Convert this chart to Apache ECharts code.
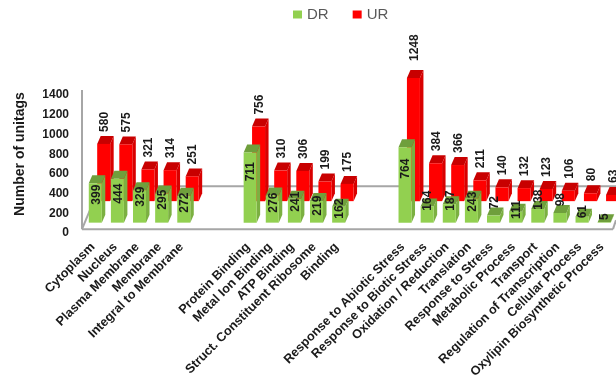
<!DOCTYPE html>
<html>
<head>
<meta charset="utf-8">
<script src="https://cdn.jsdelivr.net/npm/echarts@6/dist/echarts.min.js"></script>
<style>html,body{margin:0;padding:0;background:#fff}#c{width:616px;height:381px}</style>
</head>
<body>
<div id="c"></div>
<script>
// Unitag counts per GO term; empty slots separate the three term groups.
const categories = [
  'Cytoplasm', 'Nucleus', 'Plasma Membrane', 'Membrane', 'Integral to Membrane', '', '',
  'Protein Binding', 'Metal Ion Binding', 'ATP Binding', 'Struct. Constituent Ribosome', 'Binding', '', '',
  'Response to Abiotic Stress', 'Response to Biotic Stress', 'Oxidation / Reduction', 'Translation',
  'Response to Stress', 'Metabolic Process', 'Transport', 'Regulation of Transcription',
  'Cellular Process', 'Oxylipin Biosynthetic Process'
];
const drValues = [399, 444, 329, 295, 272, null, null, 711, 276, 241, 219, 162, null, null,
  764, 164, 187, 243, 72, 111, 138, 98, 61, 5];
const urValues = [580, 575, 321, 314, 251, null, null, 756, 310, 306, 199, 175, null, null,
  1248, 384, 366, 211, 140, 132, 123, 106, 80, 63];
const yTicks = { min: 0, max: 1400, interval: 200 };

// Height in pixels of each DR value label above the foot of its column.
const drLabelRise = [28, 29, 26, 23, 20, 0, 0, 51, 20, 21, 17, 14, 0, 0,
  54, 22, 22, 21, 20, 13, 23, 23, 11, 6];

const FAMILY = '"Liberation Sans", Arial, sans-serif';
const FONT = 'bold 12px ' + FAMILY;
const INK = '#1a1a1a';
const EDGE = '#a6a6a6';
const GREEN = { front: '#92d050', top: '#6f9f3c', side: '#7bb041' };
const RED = { front: '#ff0000', top: '#c80000', side: '#d90000' };

// Draws one pseudo-3D column: front, side and top faces, then its value label.
function column(params, api, o) {
  const i = api.value(0), v = api.value(1);
  const foot = api.coord([i, 0]);
  const head = api.coord([i, v]);
  const band = api.size([1, 0])[0];
  const w = 13, dx = 3.5, dy = 8;
  const cx = foot[0] + band * o.shift;
  const x0 = cx - w / 2, x1 = cx + w / 2;
  const yb = foot[1] - o.lift, yt = head[1] - o.lift;
  const faces = [
    { type: 'polygon', shape: { points: [[x1, yb], [x1 + dx, yb - dy], [x1 + dx, yt - dy], [x1, yt]] }, style: { fill: o.col.side } },
    { type: 'polygon', shape: { points: [[x0, yt], [x0 + dx, yt - dy], [x1 + dx, yt - dy], [x1, yt]] }, style: { fill: o.col.top } },
    { type: 'rect', shape: { x: x0, y: yt, width: w, height: yb - yt }, style: { fill: o.col.front } }
  ];
  faces.push({
    type: 'text', x: cx + 1, y: o.labelY(i, yb, yt - dy), rotation: Math.PI / 2, z2: 50,
    style: { text: String(v), font: FONT, fill: INK, align: o.align, verticalAlign: 'middle' }
  });
  return { type: 'group', children: faces };
}

const option = {
  animation: false,
  backgroundColor: '#fff',
  legend: {
    data: ['DR', 'UR'], left: 288, top: 2, icon: 'rect', itemWidth: 9, itemHeight: 8, itemGap: 24,
    textStyle: { fontSize: 15, color: '#595959', fontFamily: FAMILY }
  },
  grid: { left: 82, right: 3, top: 91, bottom: 151 },
  xAxis: {
    type: 'category', data: categories,
    axisTick: { show: false },
    axisLine: { show: false },
    axisLabel: { interval: 0, rotate: 45, margin: 16, color: INK, fontFamily: FAMILY, fontWeight: 'bold', fontSize: 12.7 }
  },
  yAxis: {
    type: 'value', min: yTicks.min, max: yTicks.max, interval: yTicks.interval,
    name: 'Number of unitags', nameLocation: 'middle', nameGap: 55,
    nameTextStyle: { fontFamily: FAMILY, fontWeight: 'bold', fontSize: 14, color: INK, padding: [0, 0, 0, 12] },
    splitLine: { show: false }, axisTick: { show: false },
    axisLine: { show: false },
    axisLabel: {
      margin: 13, color: INK, fontFamily: FAMILY, fontWeight: 'bold', fontSize: 12,
      verticalAlign: 'top', padding: [-2, 0, 0, 0], formatter: v => String(v)
    }
  },
  series: [
    {
      // Plot frame: left wall, front edge, back edge and the slanted floor sides.
      type: 'custom', name: 'floor', silent: true, z: 1, clip: false,
      encode: { x: 0, y: 1 },
      data: [[0, 0]],
      renderItem(params, api) {
        const foot = api.coord([0, 0]), band = api.size([1, 0])[0];
        const left = foot[0] - band / 2, right = api.coord([23, 0])[0] + band / 2;
        const y = foot[1], backY = y - 43, wallTop = api.coord([0, yTicks.max])[1] - 1;
        const line = { stroke: EDGE, lineWidth: 2, fill: 'none' };
        const seg = (x1, y1, x2, y2) => ({ type: 'line', shape: { x1, y1, x2, y2 }, style: line });
        return {
          type: 'group', children: [
            seg(left + 18, backY, 616, backY),
            seg(left, y, left + 18, backY),
            seg(left, wallTop, left, y),
            seg(left, y, right, y),
            seg(right, y, right + 3, y - 9)
          ]
        };
      }
    },
    {
      type: 'custom', name: 'UR', z: 2, clip: false,
      itemStyle: { color: RED.front },
      encode: { x: 0, y: 1 },
      data: urValues.map((v, i) => [i, v]).filter(d => d[1] !== null),
      renderItem: (p, api) => column(p, api, {
        col: RED, shift: 0.48, lift: 28, align: 'left',
        labelY: (i, yb, top) => top - (api.value(1) > 1000 ? 9 : 4)
      })
    },
    {
      type: 'custom', name: 'DR', z: 3, clip: false,
      itemStyle: { color: GREEN.front },
      encode: { x: 0, y: 1 },
      data: drValues.map((v, i) => [i, v]).filter(d => d[1] !== null),
      renderItem: (p, api) => column(p, api, {
        col: GREEN, shift: 0.1, lift: 6.5, align: 'center',
        labelY: (i, yb) => yb - drLabelRise[i]
      })
    }
  ]
};
echarts.init(document.getElementById('c')).setOption(option);
</script>
</body>
</html>
